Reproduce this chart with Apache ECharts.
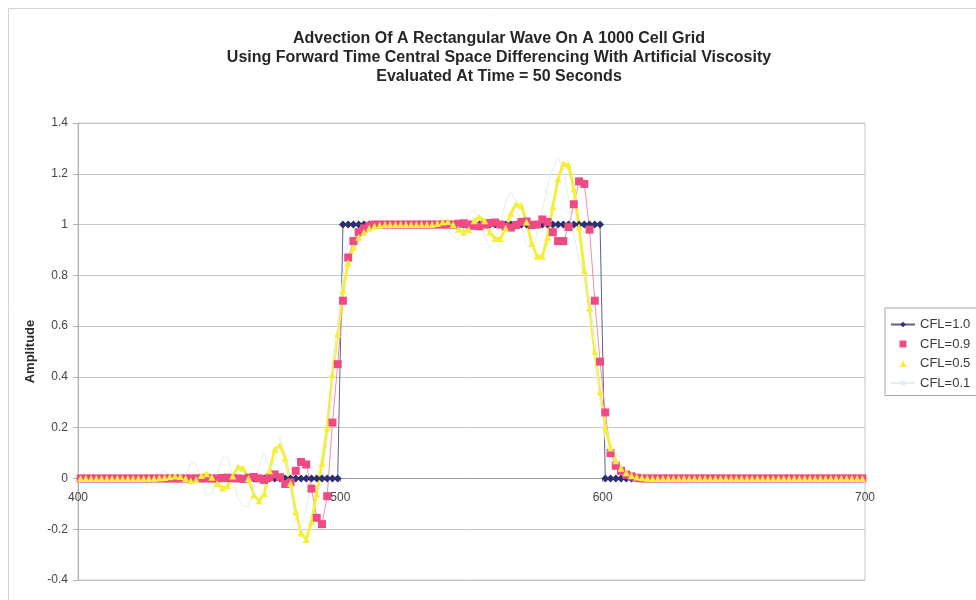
<!DOCTYPE html>
<html>
<head>
<meta charset="utf-8">
<script src="https://cdn.jsdelivr.net/npm/echarts@6/dist/echarts.min.js"></script>
<style>
  html, body { margin: 0; padding: 0; background: #fff; }
  #chart { width: 976px; height: 600px; }
</style>
</head>
<body>
<div id="chart"></div>
<script>
// grid cells (every second cell is plotted)
const cells = [
  401, 403, 405, 407, 409, 411, 413, 415, 417, 419,
  421, 423, 425, 427, 429, 431, 433, 435, 437, 439,
  441, 443, 445, 447, 449, 451, 453, 455, 457, 459,
  461, 463, 465, 467, 469, 471, 473, 475, 477, 479,
  481, 483, 485, 487, 489, 491, 493, 495, 497, 499,
  501, 503, 505, 507, 509, 511, 513, 515, 517, 519,
  521, 523, 525, 527, 529, 531, 533, 535, 537, 539,
  541, 543, 545, 547, 549, 551, 553, 555, 557, 559,
  561, 563, 565, 567, 569, 571, 573, 575, 577, 579,
  581, 583, 585, 587, 589, 591, 593, 595, 597, 599,
  601, 603, 605, 607, 609, 611, 613, 615, 617, 619,
  621, 623, 625, 627, 629, 631, 633, 635, 637, 639,
  641, 643, 645, 647, 649, 651, 653, 655, 657, 659,
  661, 663, 665, 667, 669, 671, 673, 675, 677, 679,
  681, 683, 685, 687, 689, 691, 693, 695, 697, 699
];

const cfl10 = [
  0, 0, 0, 0, 0, 0, 0, 0, 0, 0,
  0, 0, 0, 0, 0, 0, 0, 0, 0, 0,
  0, 0, 0, 0, 0, 0, 0, 0, 0, 0,
  0, 0, 0, 0, 0, 0, 0, 0, 0, 0,
  0, 0, 0, 0, 0, 0, 0, 0, 0, 0,
  1, 1, 1, 1, 1, 1, 1, 1, 1, 1,
  1, 1, 1, 1, 1, 1, 1, 1, 1, 1,
  1, 1, 1, 1, 1, 1, 1, 1, 1, 1,
  1, 1, 1, 1, 1, 1, 1, 1, 1, 1,
  1, 1, 1, 1, 1, 1, 1, 1, 1, 1,
  0, 0, 0, 0, 0, 0, 0, 0, 0, 0,
  0, 0, 0, 0, 0, 0, 0, 0, 0, 0,
  0, 0, 0, 0, 0, 0, 0, 0, 0, 0,
  0, 0, 0, 0, 0, 0, 0, 0, 0, 0,
  0, 0, 0, 0, 0, 0, 0, 0, 0, 0
];

const cfl09 = [
  0, 0, 0, 0, 0, 0, 0, 0, 0, 0,
  0, 0, 0, 0, 0, 0, 0, 0, 0, 0,
  0, 0, 0, 0, 0, 0, 0, 0.002, 0.003, 0.001,
  0, -0.002, 0.003, 0.006, 0, -0.006, 0.005, 0.016, 0.005, -0.022,
  -0.015, 0.03, 0.065, 0.055, -0.04, -0.155, -0.18, -0.07, 0.22, 0.45,
  0.70, 0.87, 0.935, 0.97, 0.985, 0.995, 1, 1, 1, 1,
  1, 1, 1, 1, 1, 1, 1, 1, 1, 1,
  1, 1, 1.003, 1.005, 1, 0.995, 0.993, 1, 1.006, 1.008,
  1, 0.992, 0.988, 0.998, 1.01, 1.012, 0.998, 1, 1.02, 1.01,
  0.97, 0.935, 0.935, 0.99, 1.08, 1.17, 1.16, 0.98, 0.70, 0.46,
  0.26, 0.10, 0.05, 0.03, 0.015, 0.008, 0.003, 0, 0, 0,
  0, 0, 0, 0, 0, 0, 0, 0, 0, 0,
  0, 0, 0, 0, 0, 0, 0, 0, 0, 0,
  0, 0, 0, 0, 0, 0, 0, 0, 0, 0,
  0, 0, 0, 0, 0, 0, 0, 0, 0, 0
];

const cfl05 = [
  0, 0, 0, 0, 0, 0, 0, 0, 0, 0,
  0, 0, 0, 0, 0, 0.002, 0.004, 0.007, 0.010, 0.008,
  0, -0.009, -0.005, 0.012, 0.018, 0.005, -0.02, -0.038, -0.03, 0.01,
  0.045, 0.04, 0, -0.065, -0.088, -0.06, 0.03, 0.115, 0.13, 0.08,
  -0.02, -0.13, -0.215, -0.24, -0.17, -0.06, 0.06, 0.20, 0.41, 0.57,
  0.74, 0.85, 0.91, 0.95, 0.97, 0.985, 0.993, 0.997, 1, 1,
  1, 1, 1, 1, 1, 1, 1, 1, 1.004, 1.01,
  1.012, 1, 0.982, 0.97, 0.98, 1.015, 1.03, 1.015, 0.97, 0.945,
  0.945, 0.985, 1.045, 1.08, 1.075, 1.01, 0.925, 0.875, 0.875, 0.95,
  1.07, 1.18, 1.24, 1.235, 1.14, 0.99, 0.82, 0.67, 0.50, 0.34,
  0.20, 0.12, 0.07, 0.04, 0.022, 0.012, 0.006, 0.003, 0.001, 0,
  0, 0, 0, 0, 0, 0, 0, 0, 0, 0,
  0, 0, 0, 0, 0, 0, 0, 0, 0, 0,
  0, 0, 0, 0, 0, 0, 0, 0, 0, 0,
  0, 0, 0, 0, 0, 0, 0, 0, 0, 0
];

const cfl01 = [
  0, 0, 0, 0, 0, -0.005, -0.012, -0.015, -0.005, 0.008,
  0.01, 0, -0.015, -0.02, -0.005, 0.02, 0.03, 0.01, -0.025, -0.04,
  0.01, 0.065, 0.06, -0.01, -0.065, -0.06, 0.01, 0.08, 0.085, 0.01,
  -0.08, -0.11, -0.11, -0.04, 0.05, 0.10, 0.04, 0.06, 0.16, 0.10,
  -0.05, -0.17, -0.20, -0.12, -0.02, -0.06, -0.02, 0.15, 0.38, 0.60,
  0.80, 0.93, 1.0, 1.03, 1.02, 1.0, 0.99, 1.0, 1.01, 1.0,
  1.0, 0.99, 1.0, 1.015, 1.01, 0.985, 0.98, 1.0, 1.03, 1.02,
  0.98, 0.95, 0.94, 0.98, 1.04, 1.06, 1.02, 0.95, 0.91, 0.93,
  1.0, 1.09, 1.13, 1.09, 1.0, 0.92, 0.90, 0.96, 1.06, 1.15,
  1.22, 1.26, 1.22, 1.10, 0.96, 0.86, 0.80, 0.70, 0.52, 0.32,
  0.15, 0.06, 0.02, 0, -0.01, -0.005, 0, 0, 0, 0,
  0, 0, 0, 0, 0, 0, 0, 0, 0, 0,
  0, 0, 0, 0, 0, 0, 0, 0, 0, 0,
  0, 0, 0, 0, 0, 0, 0, 0, 0, 0,
  0, 0, 0, 0, 0, 0, 0, 0, 0, 0
];

const seriesNames = ['CFL=1.0', 'CFL=0.9', 'CFL=0.5', 'CFL=0.1'];
const titleText = 'Advection Of A Rectangular Wave On A 1000 Cell Grid\n' +
  'Using Forward Time Central Space Differencing With Artificial Viscosity\n' +
  'Evaluated At Time = 50 Seconds';

const pairs = (ys) => cells.map((c, i) => [c, ys[i]]);

const chart = echarts.init(document.getElementById('chart'));
const font = 'Liberation Sans, Arial, sans-serif';

chart.setOption({
  animation: false,
  backgroundColor: '#fff',
  textStyle: {fontFamily: font},
  graphic: [
    {
      type: 'rect',
      shape: {x: 8.5, y: 8.5, width: 1100, height: 1100},
      style: {fill: 'none', stroke: '#d4d4d4', lineWidth: 1},
      silent: true,
    }
  ],
  title: {
    text: titleText,
    left: 494,
    top: 24,
    textAlign: 'center',
    textStyle: {
      fontFamily: font,
      fontSize: 16,
      fontWeight: 'bold',
      color: '#262626',
      lineHeight: 19,
    },
  },
  legend: {
    orient: 'vertical',
    left: 885,
    top: 308,
    padding: [10, 40, 6, 5],
    borderColor: '#a8a8a8',
    borderWidth: 1,
    itemWidth: 24,
    itemHeight: 7,
    itemGap: 6.5,
    textStyle: {fontFamily: font, fontSize: 13, color: '#3a3a3a'},
    data: [
      {name: 'CFL=1.0'},
      {name: 'CFL=0.9', icon: 'path://M0,0H10V10H0Z'},
      {name: 'CFL=0.5', icon: 'path://M5,0L10,10H0Z'},
      {name: 'CFL=0.1'},
    ],
  },
  grid: {
    left: 78,
    right: 111,
    top: 123,
    bottom: 20,
    show: true,
    borderColor: '#c6c6c6',
    borderWidth: 1,
  },
  xAxis: {
    type: 'value',
    min: 400,
    max: 700,
    interval: 100,
    offset: -102,
    axisLine: {onZero: false, lineStyle: {color: '#9a9a9a'}},
    axisTick: {show: true, length: 4, lineStyle: {color: '#9a9a9a'}},
    splitLine: {show: false},
    axisLabel: {margin: 14, fontSize: 12, color: '#444', fontFamily: font},
  },
  yAxis: {
    type: 'value',
    min: -0.4,
    max: 1.4,
    interval: 0.2,
    name: 'Amplitude',
    nameLocation: 'middle',
    nameGap: 40,
    nameTextStyle: {fontFamily: font, fontSize: 13, fontWeight: 'bold', color: '#2a2a2a'},
    axisLine: {show: true, onZero: false, lineStyle: {color: '#b0b0b0'}},
    axisTick: {show: true, length: 5, lineStyle: {color: '#b0b0b0'}},
    splitLine: {show: true, lineStyle: {color: '#c6c6c6'}},
    axisLabel: {margin: 10, fontSize: 12, color: '#444', fontFamily: font},
  },
  series: [
    {
      name: seriesNames[0],
      type: 'line',
      data: pairs(cfl10),
      symbol: 'diamond',
      symbolSize: 8,
      showAllSymbol: true,
      itemStyle: {color: '#2c306c'},
      lineStyle: {color: '#5d6190', width: 1},
    },
    {
      name: seriesNames[1],
      type: 'line',
      data: pairs(cfl09),
      symbol: 'rect',
      symbolSize: 8,
      showAllSymbol: true,
      itemStyle: {color: '#ef4a84'},
      lineStyle: {color: '#f58ab0', width: 1},
    },
    {
      name: seriesNames[2],
      type: 'line',
      data: pairs(cfl05),
      symbol: 'triangle',
      symbolSize: 7,
      showAllSymbol: true,
      itemStyle: {color: '#f4ef3a'},
      lineStyle: {color: '#f4ef3a', width: 3},
    },
    {
      name: seriesNames[3],
      type: 'line',
      data: pairs(cfl01),
      symbol: 'none',
      itemStyle: {color: '#e0f0f7'},
      lineStyle: {color: '#e0f0f7', width: 1},
    },
  ],
});
</script>
</body>
</html>
